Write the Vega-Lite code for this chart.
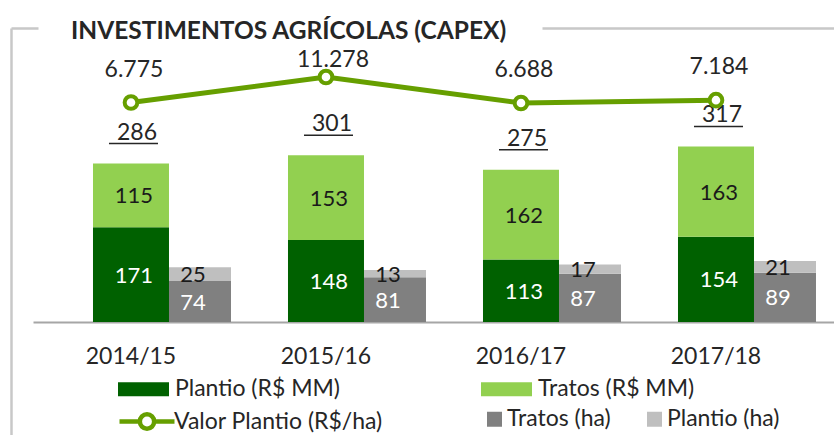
{
  "$schema": "https://vega.github.io/schema/vega-lite/v6.json",
  "width": 800,
  "height": 277,
  "autosize": {"type": "none"},
  "padding": {"left": 33, "top": 45, "right": 1, "bottom": 113},
  "background": "white",
  "title": {"text": "INVESTIMENTOS AGRÍCOLAS (CAPEX)", "anchor": "start", "frame": "group", "dx": 38, "offset": -16, "font": "Lato", "fontSize": 24.5, "fontWeight": "bold", "color": "#262626"},
  "config": {
    "view": {"stroke": null},
    "font": "Lato",
    "locale": {"number": {"decimal": ",", "thousands": ".", "grouping": [3], "currency": ["R$", ""]}}
  },
  "datasets": {
    "rs": [
      {"ano": "2014/15", "serie": "Plantio (R$ MM)", "valor": 171},
      {"ano": "2014/15", "serie": "Tratos (R$ MM)", "valor": 115},
      {"ano": "2015/16", "serie": "Plantio (R$ MM)", "valor": 148},
      {"ano": "2015/16", "serie": "Tratos (R$ MM)", "valor": 153},
      {"ano": "2016/17", "serie": "Plantio (R$ MM)", "valor": 113},
      {"ano": "2016/17", "serie": "Tratos (R$ MM)", "valor": 162},
      {"ano": "2017/18", "serie": "Plantio (R$ MM)", "valor": 154},
      {"ano": "2017/18", "serie": "Tratos (R$ MM)", "valor": 163}
    ],
    "ha": [
      {"ano": "2014/15", "serie": "Tratos (ha)", "valor": 74},
      {"ano": "2014/15", "serie": "Plantio (ha)", "valor": 25},
      {"ano": "2015/16", "serie": "Tratos (ha)", "valor": 81},
      {"ano": "2015/16", "serie": "Plantio (ha)", "valor": 13},
      {"ano": "2016/17", "serie": "Tratos (ha)", "valor": 87},
      {"ano": "2016/17", "serie": "Plantio (ha)", "valor": 17},
      {"ano": "2017/18", "serie": "Tratos (ha)", "valor": 89},
      {"ano": "2017/18", "serie": "Plantio (ha)", "valor": 21}
    ],
    "tot": [
      {"ano": "2014/15", "total": 286},
      {"ano": "2015/16", "total": 301},
      {"ano": "2016/17", "total": 275},
      {"ano": "2017/18", "total": 317}
    ],
    "vp": [
      {"ano": "2014/15", "serie": "Valor Plantio (R$/ha)", "valor": 6775},
      {"ano": "2015/16", "serie": "Valor Plantio (R$/ha)", "valor": 11278},
      {"ano": "2016/17", "serie": "Valor Plantio (R$/ha)", "valor": 6688},
      {"ano": "2017/18", "serie": "Valor Plantio (R$/ha)", "valor": 7184}
    ]
  },
  "layer": [
    {
      "encoding": {
        "x": {
          "field": "ano", "type": "nominal", "sort": null,
          "scale": {"range": [-22, 801], "paddingInner": 0, "paddingOuter": 0.11026, "align": 0.523},
          "axis": {"title": null, "orient": "bottom", "ticks": false, "grid": false, "domainColor": "#a6a6a6", "domainWidth": 2, "domainDash": [0, 22, 801, 0], "labelFontSize": 23, "labelColor": "#262626", "labelPadding": 23, "labelBaseline": "top", "labelAngle": 0}
        }
      },
      "layer": [
        {
          "data": {"name": "ha"},
          "mark": {"type": "bar", "width": 76, "xOffset": 62},
          "encoding": {
            "y": {"field": "valor", "type": "quantitative", "stack": "zero", "scale": {"domain": [0, 500]},
              "axis": {"orient": "left", "values": [100, 200, 300, 400], "title": null, "domain": false, "ticks": false, "grid": false, "labelColor": "#eeeeee", "labelFontSize": 16, "labelPadding": -32, "labelAlign": "right"}},
            "color": {"field": "serie", "type": "nominal",
              "scale": {"domain": ["Tratos (ha)", "Plantio (ha)"], "range": ["#808080", "#BFBFBF"]},
              "legend": {"title": null, "orient": "none", "legendX": 450, "legendY": 362.5, "direction": "horizontal", "symbolType": "square", "symbolSize": 225, "symbolStrokeWidth": 0, "labelFontSize": 23, "labelColor": "#262626", "labelOffset": 1, "columnPadding": 32, "labelLimit": 400}},
            "order": {"field": "serie", "sort": "descending"}
          }
        },
        {
          "data": {"name": "rs"},
          "mark": {"type": "bar", "width": 76},
          "encoding": {
            "y": {"field": "valor", "type": "quantitative", "stack": "zero", "scale": {"domain": [0, 500]}, "axis": null},
            "color": {"field": "serie", "type": "nominal",
              "scale": {"domain": ["Plantio (R$ MM)", "Tratos (R$ MM)"], "range": ["#006100", "#92D050"]},
              "legend": {"title": null, "orient": "none", "legendX": 85, "legendY": 318.5, "direction": "horizontal", "symbolType": "M-1,-0.275H1V0.275H-1Z", "symbolSize": 2601, "symbolStrokeWidth": 0, "labelFontSize": 23, "labelColor": "#262626", "labelOffset": 6, "columnPadding": 140, "labelLimit": 400}},
            "order": {"field": "serie", "sort": "ascending"}
          }
        },
        {
          "data": {"name": "ha"},
          "mark": {"type": "text", "fontSize": 22, "xOffset": 62, "dy": 1},
          "encoding": {
            "y": {"field": "valor", "type": "quantitative", "stack": "zero", "bandPosition": 0.5, "scale": {"domain": [0, 500]}, "axis": null},
            "detail": {"field": "serie"},
            "order": {"field": "serie", "sort": "descending"},
            "text": {"field": "valor", "type": "quantitative"},
            "fill": {"condition": {"test": "datum.serie === 'Tratos (ha)'", "value": "#ffffff"}, "value": "#1a1a1a"}
          }
        },
        {
          "data": {"name": "rs"},
          "mark": {"type": "text", "fontSize": 22, "dx": 3, "dy": 1},
          "encoding": {
            "y": {"field": "valor", "type": "quantitative", "stack": "zero", "bandPosition": 0.5, "scale": {"domain": [0, 500]}, "axis": null},
            "detail": {"field": "serie"},
            "order": {"field": "serie", "sort": "ascending"},
            "text": {"field": "valor", "type": "quantitative"},
            "fill": {"condition": {"test": "datum.serie === 'Plantio (R$ MM)'", "value": "#ffffff"}, "value": "#1a1a1a"}
          }
        },
        {
          "data": {"name": "tot"},
          "mark": {"type": "text", "fontSize": 23, "dx": 6, "dy": -31, "color": "#262626"},
          "encoding": {
            "y": {"field": "total", "type": "quantitative", "scale": {"domain": [0, 500]}, "axis": null},
            "text": {"field": "total", "type": "quantitative"}
          }
        },
        {
          "data": {"name": "tot"},
          "mark": {"type": "tick", "orient": "horizontal", "size": 49, "thickness": 1.5, "color": "#262626", "opacity": 1, "xOffset": 2.5, "yOffset": -20},
          "encoding": {
            "y": {"field": "total", "type": "quantitative", "scale": {"domain": [0, 500]}, "axis": null}
          }
        }
      ],
      "resolve": {"scale": {"color": "independent"}}
    },
    {
      "data": {"name": "vp"},
      "encoding": {
        "x": {"field": "ano", "type": "nominal", "sort": null,
          "axis": {"title": null, "orient": "top", "offset": 17, "labels": false, "ticks": false, "grid": false, "domainColor": "#c8c8c8", "domainWidth": 2.5, "domainDash": [27, 504, 300]}},
        "y": {"field": "valor", "type": "quantitative",
          "scale": {"domain": [-51928, 19929], "range": [390, -17], "nice": false, "zero": false},
          "axis": {"title": null, "orient": "left", "offset": 22, "labels": false, "ticks": false, "grid": false, "domainColor": "#c8c8c8", "domainWidth": 2.5}}
      },
      "layer": [
        {
          "mark": {"type": "line", "strokeWidth": 5, "point": {"filled": false, "fill": "white", "strokeWidth": 4, "size": 160, "opacity": 1}},
          "encoding": {
            "color": {"field": "serie", "type": "nominal",
              "scale": {"domain": ["Valor Plantio (R$/ha)"], "range": ["#669F00"]},
              "legend": {"title": null, "orient": "none", "legendX": 84, "legendY": 346.5, "symbolType": "M-1,0H-0.26M0.26,0H1M-0.26,0A0.26,0.26,0,1,1,0.26,0A0.26,0.26,0,1,1,-0.26,0", "symbolSize": 3025, "symbolStrokeWidth": 4.5, "symbolFillColor": "white", "labelFontSize": 23, "labelColor": "#262626", "labelOffset": -3, "labelLimit": 400,
                "encode": {"symbols": {"update": {"fill": {"value": "white"}, "stroke": {"value": "#669F00"}, "strokeWidth": {"value": 4.5}, "opacity": {"value": 1}}}}}
            }
          }
        },
        {
          "transform": [{"filter": "datum.valor < 10000"}],
          "mark": {"type": "text", "fontSize": 23, "dx": 3, "dy": -33, "color": "#262626"},
          "encoding": {"text": {"field": "valor", "type": "quantitative", "format": ",.0f"}}
        },
        {
          "transform": [{"filter": "datum.valor >= 10000"}],
          "mark": {"type": "text", "fontSize": 23, "dx": 7, "dy": -17, "color": "#262626"},
          "encoding": {"text": {"field": "valor", "type": "quantitative", "format": ",.0f"}}
        }
      ]
    }
  ],
  "resolve": {"scale": {"y": "independent", "color": "independent"}, "axis": {"x": "independent"}}
}
